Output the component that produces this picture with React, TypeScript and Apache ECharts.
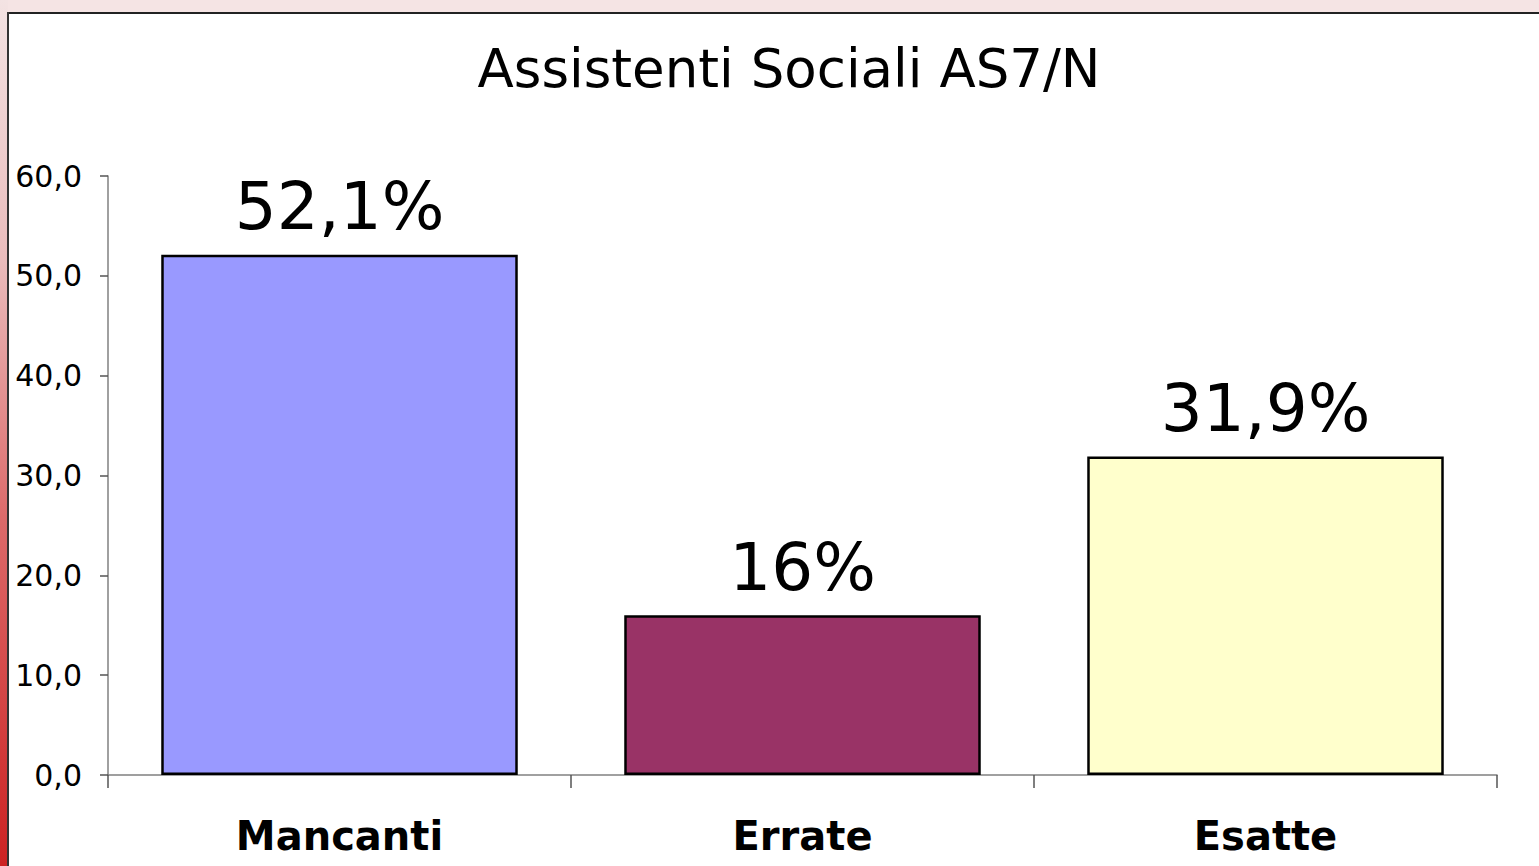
import React, { useEffect, useRef } from "react";
import * as echarts from "echarts";

const titleText = "Assistenti Sociali AS7/N";
const categories = ["Mancanti", "Errate", "Esatte"];
const values = [52.1, 16.0, 31.9];
const valueLabels = ["52,1%", "16%", "31,9%"];
const barColors = ["#9999ff", "#993366", "#ffffcc"];
const yMin = 0;
const yMax = 60;
const yInterval = 10;

export default function App() {
  const ref = useRef<HTMLDivElement>(null);

  useEffect(() => {
    if (!ref.current) return;
    const chart = echarts.init(ref.current, undefined, { renderer: "svg" });
    const font = "'DejaVu Sans', 'Liberation Sans', Arial, sans-serif";
    chart.setOption({
      animation: false,
      backgroundColor: "#ffffff",
      graphic: [
        {
          type: "rect",
          z: -10,
          silent: true,
          shape: { x: 0, y: 0, width: 1539, height: 13 },
          style: { fill: "#f5e4e4" },
        },
        {
          type: "rect",
          z: -10,
          silent: true,
          shape: { x: 0, y: 0, width: 8, height: 866 },
          style: {
            fill: new echarts.graphic.LinearGradient(0, 0, 0, 1, [
              { offset: 0, color: "#f3e3e3" },
              { offset: 0.3, color: "#eabcbc" },
              { offset: 0.6, color: "#dc6a6a" },
              { offset: 1, color: "#cc2222" },
            ]),
          },
        },
        {
          type: "line",
          z: -5,
          silent: true,
          shape: { x1: 8, y1: 13, x2: 1539, y2: 13 },
          style: { stroke: "#222222", lineWidth: 2 },
        },
        {
          type: "line",
          z: -5,
          silent: true,
          shape: { x1: 8, y1: 12, x2: 8, y2: 866 },
          style: { stroke: "#333333", lineWidth: 2 },
        },
      ],
      title: {
        text: titleText,
        left: 784,
        textAlign: "center",
        top: 35,
        textStyle: {
          fontFamily: font,
          fontSize: 53,
          fontWeight: "normal",
          color: "#000000",
          lineHeight: 56,
        },
      },
      grid: {
        left: 108,
        right: 42,
        top: 176,
        bottom: 91,
        containLabel: false,
      },
      xAxis: {
        type: "category",
        data: categories,
        boundaryGap: true,
        axisLine: { lineStyle: { color: "#808080", width: 1.5 } },
        axisTick: {
          show: true,
          length: 13,
          alignWithLabel: false,
          lineStyle: { color: "#555555", width: 1.5 },
        },
        axisLabel: {
          margin: 41,
          fontFamily: font,
          fontSize: 40,
          fontWeight: "bold",
          color: "#000000",
          lineHeight: 40,
        },
      },
      yAxis: {
        type: "value",
        min: yMin,
        max: yMax,
        interval: yInterval,
        splitLine: { show: false },
        axisLine: { show: true, lineStyle: { color: "#808080", width: 1.5 } },
        axisTick: {
          show: true,
          length: 8,
          lineStyle: { color: "#555555", width: 1.5 },
        },
        axisLabel: {
          margin: 26,
          fontFamily: font,
          fontSize: 30,
          color: "#000000",
          formatter: (v: number) => v.toFixed(1).replace(".", ","),
        },
      },
      series: [
        {
          type: "bar",
          barWidth: "77%",
          data: values.map((v, i) => ({
            value: v,
            itemStyle: {
              color: barColors[i],
              borderColor: "#000000",
              borderWidth: 2.5,
            },
            label: {
              show: true,
              position: "top",
              distance: 15,
              formatter: valueLabels[i],
              fontFamily: font,
              fontSize: 66,
              lineHeight: 66,
              color: "#000000",
            },
          })),
        },
      ],
    });
    return () => chart.dispose();
  }, []);

  return (
    <div
      ref={ref}
      style={{ position: "absolute", left: 0, top: 0, width: 1539, height: 866 }}
    />
  );
}
